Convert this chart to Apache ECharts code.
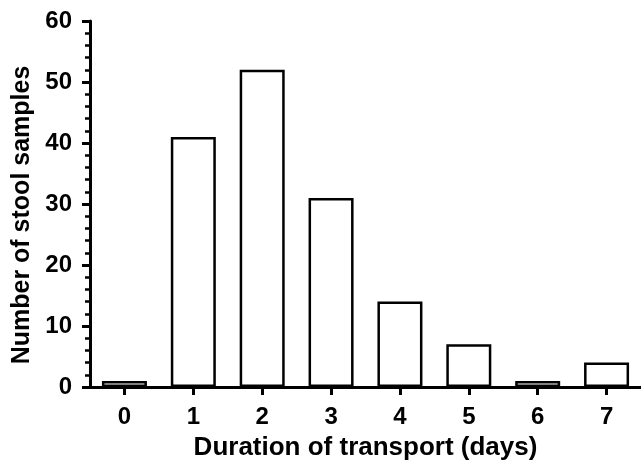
<!DOCTYPE html>
<html>
<head>
<meta charset="utf-8">
<script src="https://cdn.jsdelivr.net/npm/echarts@6/dist/echarts.min.js"></script>
<style>
html,body{margin:0;padding:0;background:#fff;}
#chart{width:641px;height:466px;}
</style>
</head>
<body>
<div id="chart"></div>
<script>
const categories = ['0','1','2','3','4','5','6','7'];
const samples = [1, 41, 52, 31, 14, 7, 1, 4];
const yTicks = {min: 0, max: 60, interval: 10};
const xTitle = 'Duration of transport (days)';
const yTitle = 'Number of stool samples';

const font = "'Liberation Sans', Arial, Helvetica, sans-serif";
const chart = echarts.init(document.getElementById('chart'), null, {renderer: 'canvas'});
chart.setOption({
  animation: false,
  backgroundColor: '#ffffff',
  grid: {left: 90, right: 0, top: 21, bottom: 76, containLabel: false},
  xAxis: {
    type: 'category',
    data: categories,
    boundaryGap: true,
    name: xTitle,
    nameLocation: 'middle',
    nameGap: 48,
    nameTextStyle: {fontFamily: font, fontWeight: 'bold', fontSize: 26, color: '#000'},
    axisLine: {lineStyle: {color: '#000', width: 3}},
    axisTick: {show: true, alignWithLabel: true, length: 8, lineStyle: {color: '#000', width: 3}},
    axisLabel: {fontFamily: font, fontWeight: 'bold', fontSize: 24, color: '#000', margin: 18}
  },
  yAxis: {
    type: 'value',
    min: yTicks.min, max: yTicks.max, interval: yTicks.interval,
    name: yTitle,
    nameLocation: 'middle',
    nameGap: 54,
    nameTextStyle: {fontFamily: font, fontWeight: 'bold', fontSize: 25, color: '#000', padding: [0, 22, 0, 0]},
    axisLine: {show: true, lineStyle: {color: '#000', width: 3}},
    axisTick: {show: true, length: 8, lineStyle: {color: '#000', width: 3}},
    minorTick: {show: true, splitNumber: 5, length: 5, lineStyle: {color: '#000', width: 2.5}},
    splitLine: {show: false},
    axisLabel: {fontFamily: font, fontWeight: 'bold', fontSize: 24, color: '#000', margin: 18}
  },
  series: [{
    type: 'bar',
    data: samples,
    barWidth: 45,
    itemStyle: {color: '#ffffff', borderColor: '#000', borderWidth: 2.5}
  }]
});
</script>
</body>
</html>
